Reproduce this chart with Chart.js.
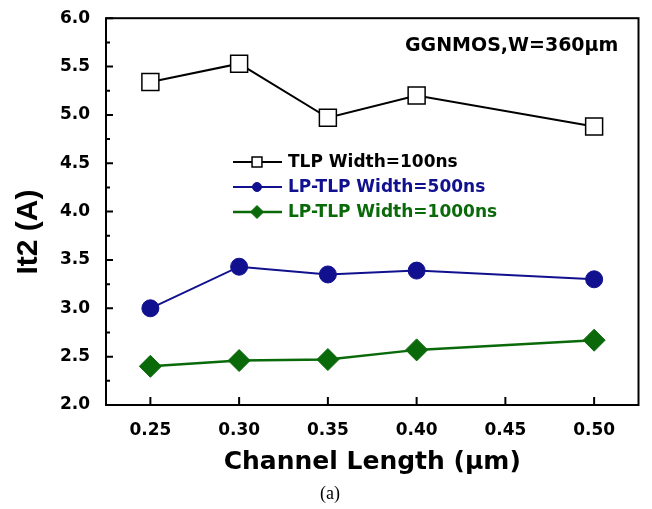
<!DOCTYPE html>
<html>
<head>
<meta charset="utf-8">
<title>It2 vs Channel Length</title>
<script src="https://cdn.jsdelivr.net/npm/chart.js@4/dist/chart.umd.min.js"></script>
<style>
  html, body { margin: 0; padding: 0; background: #fff; }
  #wrap { width: 652px; height: 509px; }
</style>
</head>
<body>
<div id="wrap"><canvas id="it2Chart" width="652" height="509"></canvas></div>
<script>
// channel length (um) on x, It2 (A) on y
const channelLength = [0.25, 0.30, 0.35, 0.40, 0.50];
const tlp100 = [5.34, 5.53, 4.97, 5.20, 4.88];
const lptlp500 = [3.00, 3.43, 3.35, 3.39, 3.30];
const lptlp1000 = [2.40, 2.46, 2.47, 2.57, 2.67];

const seriesNames = ["TLP Width=100ns", "LP-TLP Width=500ns", "LP-TLP Width=1000ns"];
const yTicks = [2.0, 2.5, 3.0, 3.5, 4.0, 4.5, 5.0, 5.5, 6.0];
const xTicks = [0.25, 0.30, 0.35, 0.40, 0.45, 0.50];

const NAVY = "#11118f";
const GREEN = "#0a6a0a";
const TICK_FONT = "DejaVu Sans";

function toPoints(ys) {
    return channelLength.map((x, i) => ({x: x, y: ys[i]}));
}

// frame, inward ticks, legend and text labels
const decorations = {
    id: "decorations",
    afterDraw(chart) {
        const ctx = chart.ctx;
        const area = chart.chartArea;
        const xs = chart.scales.x;
        const ys = chart.scales.y;
        ctx.save();
        ctx.strokeStyle = "#000";
        ctx.lineWidth = 2;
        ctx.strokeRect(area.left, area.top, area.right - area.left, area.bottom - area.top);

        ctx.beginPath();
        xTicks.forEach(v => {
            const px = xs.getPixelForValue(v);
            ctx.moveTo(px, area.bottom);
            ctx.lineTo(px, area.bottom - 8);
        });
        for (let v = 2.0; v <= 6.0001; v += 0.25) {
            const py = ys.getPixelForValue(v);
            const major = Math.abs(v * 2 - Math.round(v * 2)) < 1e-6;
            ctx.moveTo(area.left, py);
            ctx.lineTo(area.left + (major ? 7 : 4), py);
        }
        ctx.stroke();

        // legend
        const rows = [162, 187, 212];
        const textColors = ["#000", NAVY, GREEN];
        const markerSize = [7, 4.5, 6.5];
        chart.data.datasets.forEach((ds, i) => {
            const y = rows[i];
            ctx.strokeStyle = ds.borderColor;
            ctx.lineWidth = ds.borderWidth;
            ctx.beginPath();
            ctx.moveTo(233, y);
            ctx.lineTo(282, y);
            ctx.stroke();
            ctx.fillStyle = ds.pointBackgroundColor;
            ctx.strokeStyle = ds.pointBorderColor;
            ctx.lineWidth = ds.pointBorderWidth;
            Chart.helpers.drawPoint(ctx, {
                pointStyle: ds.pointStyle,
                radius: markerSize[i],
                borderWidth: ds.pointBorderWidth,
                rotation: 0
            }, 257, y);
            ctx.fillStyle = textColors[i];
            ctx.font = "bold 17px '" + TICK_FONT + "'";
            ctx.textAlign = "left";
            ctx.textBaseline = "middle";
            ctx.fillText(ds.label, 288, y + 1);
        });

        ctx.fillStyle = "#000";
        ctx.font = "bold 19px '" + TICK_FONT + "'";
        ctx.textAlign = "left";
        ctx.textBaseline = "middle";
        ctx.fillText("GGNMOS,W=360\u03bcm", 405, 46);

        // y axis title
        ctx.save();
        ctx.translate(29, 232);
        ctx.rotate(-Math.PI / 2);
        ctx.font = "bold 30px 'Liberation Sans', Arial";
        ctx.textAlign = "center";
        ctx.textBaseline = "middle";
        ctx.fillText("It2 (A)", 0, 0);
        ctx.restore();

        ctx.font = "18px 'Liberation Serif', 'Times New Roman'";
        ctx.textAlign = "center";
        ctx.textBaseline = "middle";
        ctx.fillText("(a)", 330, 494);
        ctx.restore();
    }
};

new Chart(document.getElementById("it2Chart"), {
    type: "line",
    data: {
        datasets: [
            {
                label: seriesNames[0],
                data: toPoints(tlp100),
                borderColor: "#000",
                borderWidth: 2,
                pointStyle: "rect",
                pointRadius: 12,
                pointBackgroundColor: "#fff",
                pointBorderColor: "#000",
                pointBorderWidth: 1.5
            },
            {
                label: seriesNames[1],
                data: toPoints(lptlp500),
                borderColor: NAVY,
                borderWidth: 2,
                pointStyle: "circle",
                pointRadius: 8.5,
                pointBackgroundColor: NAVY,
                pointBorderColor: NAVY,
                pointBorderWidth: 1
            },
            {
                label: seriesNames[2],
                data: toPoints(lptlp1000),
                borderColor: GREEN,
                borderWidth: 2.5,
                pointStyle: "rectRot",
                pointRadius: 11,
                pointBackgroundColor: GREEN,
                pointBorderColor: GREEN,
                pointBorderWidth: 1
            }
        ]
    },
    options: {
        responsive: false,
        animation: false,
        layout: {padding: {left: 0, right: 11, top: 13, bottom: 0}},
        plugins: {legend: {display: false}, tooltip: {enabled: false}},
        scales: {
            x: {
                type: "linear",
                min: 0.225,
                max: 0.525,
                afterFit(scale) { scale.height = 104; },
                afterBuildTicks(scale) { scale.ticks = xTicks.map(v => ({value: v})); },
                grid: {display: false},
                border: {display: false},
                ticks: {
                    padding: 7,
                    color: "#000",
                    font: {family: TICK_FONT, size: 17, weight: "bold"},
                    callback: v => v.toFixed(2)
                },
                title: {
                    display: true,
                    text: "Channel Length (\u03bcm)",
                    color: "#000",
                    font: {family: TICK_FONT, size: 25, weight: "bold"},
                    padding: {top: 0, bottom: 32}
                }
            },
            y: {
                min: 2.0,
                max: 6.0,
                afterFit(scale) { scale.width = 106; },
                afterBuildTicks(scale) { scale.ticks = yTicks.map(v => ({value: v})); },
                grid: {display: false},
                border: {display: false},
                ticks: {
                    padding: 8,
                    color: "#000",
                    font: {family: TICK_FONT, size: 17, weight: "bold"},
                    callback: v => v.toFixed(1)
                }
            }
        }
    },
    plugins: [decorations]
});
</script>
</body>
</html>
